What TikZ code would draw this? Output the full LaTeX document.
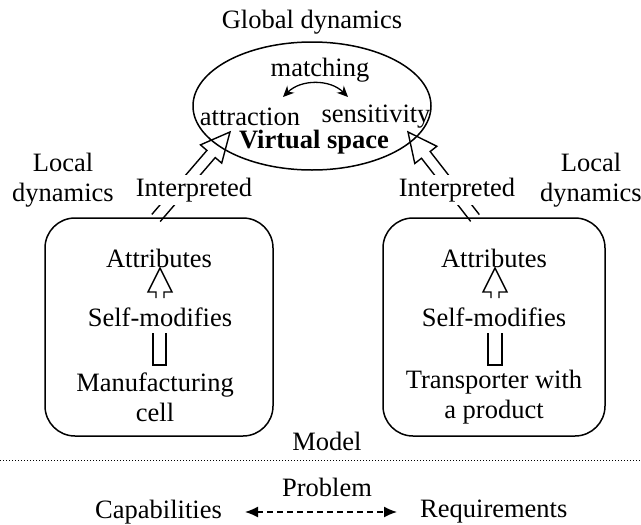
\documentclass[tikz,border=0pt]{standalone}
\usepackage{fontspec}
\setmainfont{Liberation Serif}
\usetikzlibrary{shapes.geometric,arrows.meta,calc}
\newcommand{\blockarrow}[6]{%
  \coordinate (#1h) at ($(#3)!#6!(#2)$);
  \draw[outl] ($(#2)!#4!90:(#3)$) -- ($(#1h)!#4!90:(#3)$) -- ($(#1h)!#5!90:(#3)$) -- (#3)
     -- ($(#1h)!#5!-90:(#3)$) -- ($(#1h)!#4!-90:(#3)$) -- ($(#2)!#4!-90:(#3)$);
}
\newcommand{\ushape}[3]{%
  \draw[outl] ($(#1)+(-#3,0)$) -- ($(#2)+(-#3,0)$) -- ($(#2)+(#3,0)$) -- ($(#1)+(#3,0)$);
}
\begin{document}
\begin{tikzpicture}[x=1pt,y=-1pt,
  txt/.style={inner sep=0pt, font=\fontsize{26.5}{30}\selectfont, align=center},
  outl/.style={line width=1.4pt, line join=miter},
  boxstyle/.style={draw, line width=1.5pt, rounded corners=30pt},
  lab/.style={txt, fill=white, inner sep=3pt}]
\useasboundingbox (0,0) rectangle (641,525);
% global
\node[txt] (gd) at (312,22) {Global dynamics};
\node[draw, ellipse, line width=1.5pt, minimum width=238pt, minimum height=128pt, inner sep=0pt] (vs) at (312,106) {};
\node[txt] (match) at (320,70) {matching};
\node[txt] (attr) at (250,117) {attraction};
\node[txt] (sens) at (376,117) {sensitivity};
\node[txt, font=\fontsize{26.5}{30}\selectfont\bfseries] (vsp) at (314,142) {Virtual space};
\coordinate (ma) at (283,97);
\coordinate (mb) at (348,97);
\draw[line width=1.3pt, {Stealth[length=11pt,width=10pt]}-{Stealth[length=11pt,width=10pt]}] (ma) to[bend left=45] (mb);
% local labels
\node[txt] (ldl) at (63,180) {Local\\dynamics};
\node[txt] (ldr) at (591,180) {Local\\dynamics};
% boxes
\node[boxstyle, minimum width=228pt, minimum height=218pt] (lb) at (159,327) {};
\node[boxstyle, minimum width=222pt, minimum height=218pt] (rb) at (494,327) {};
% interpreted arrows
\coordinate (la0) at (156,218);
\coordinate (la1) at (230,132);
\coordinate (ra0) at (475,218);
\coordinate (ra1) at (408,132);
\blockarrow{la}{la0}{la1}{5.5pt}{14pt}{29pt}
\blockarrow{ra}{ra0}{ra1}{5.5pt}{14pt}{29pt}
\node[lab] (il) at (194,190) {Interpreted};
\node[lab] (ir) at (457,190) {Interpreted};
% left box contents
\node[txt] (at1) at (159,258) {Attributes};
\node[txt] (sm1) at (160,317) {Self-modifies};
\node[txt] (mc) at (155,397) {Manufacturing\\cell};
\coordinate (ua0) at (160,298);
\coordinate (ua1) at (160,268);
\blockarrow{ua}{ua0}{ua1}{4pt}{12pt}{24pt}
\coordinate (ut1) at (159.5,333);
\coordinate (ub1) at (159.5,365);
\ushape{ut1}{ub1}{6.5}
% right box contents
\node[txt] (at2) at (494,258) {Attributes};
\node[txt] (sm2) at (494,317) {Self-modifies};
\node[txt] (tp) at (494,397) {Transporter with\\a product};
\coordinate (va0) at (495,298);
\coordinate (va1) at (495,268);
\blockarrow{va}{va0}{va1}{4pt}{12pt}{24pt}
\coordinate (ut2) at (495,333);
\coordinate (ub2) at (495,365);
\ushape{ut2}{ub2}{7}
% bottom
\node[txt] (model) at (327,441) {Model};
\coordinate (dl0) at (0,460);
\coordinate (dl1) at (641,460);
\draw[line width=1pt, dotted] (dl0) -- (dl1);
\node[txt] (prob) at (327,487) {Problem};
\node[txt, anchor=east] (cap) at (222,512) {Capabilities};
\node[txt, anchor=west] (req) at (420,512) {Requirements};
\draw[line width=1.4pt, dashed, dash pattern=on 6pt off 4pt, {Latex[length=13pt,width=11pt]}-{Latex[length=13pt,width=11pt]}] ([xshift=23pt]cap.east) -- ([xshift=-23pt]req.west);
\end{tikzpicture}
\end{document}
